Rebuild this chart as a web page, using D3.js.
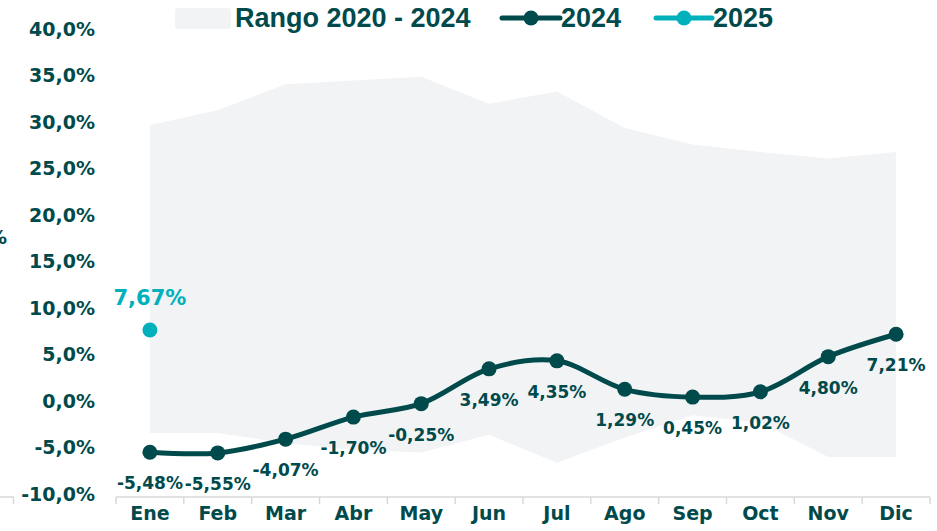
<!DOCTYPE html>
<html><head><meta charset="utf-8">
<script src="https://cdn.jsdelivr.net/npm/d3@7"></script>
<style>
html,body{margin:0;padding:0;background:#fff;}
svg{display:block;}
</style></head>
<body>
<svg id="chart" width="937" height="531"></svg>
<script>
// ---- data ----
const months = ["Ene","Feb","Mar","Abr","May","Jun","Jul","Ago","Sep","Oct","Nov","Dic"];
const series2024 = [-5.48,-5.55,-4.07,-1.70,-0.25,3.49,4.35,1.29,0.45,1.02,4.80,7.21];
const series2025 = [7.67];
const rangeMax = [29.7,31.3,34.1,34.5,34.9,32.0,33.3,29.4,27.6,26.8,26.1,26.8];
const rangeMin = [-3.4,-3.4,-4.5,-5.2,-5.5,-3.6,-6.6,-3.9,-1.5,-2.3,-6.0,-6.0];
const yTicks = [-10,-5,0,5,10,15,20,25,30,35,40];
const legendLabels = ["Rango 2020 - 2024","2024","2025"];

// ---- styles ----
const dark = "#014a4c", teal = "#00b0ba", bandFill = "#f2f3f5", axisGray = "#d9d9d9";
const fontMain = "'DejaVu Sans', sans-serif";
const fontLegend = "'Liberation Sans', Arial, sans-serif";

const svg = d3.select("#chart");
const x = d3.scaleBand().domain(months).range([116, 930]).padding(0);
const y = d3.scaleLinear().domain([-10, 40]).range([494.3, 29.3]);
const cx = m => x(m) + x.bandwidth() / 2;
const fmt = v => v.toFixed(2).replace(".", ",") + "%";

// band
const bandData = months.map((m, i) => ({m, lo: rangeMin[i], hi: rangeMax[i]}));
svg.append("path").datum(bandData)
  .attr("fill", bandFill)
  .attr("d", d3.area().x(d => cx(d.m)).y0(d => y(d.lo)).y1(d => y(d.hi)));

// y axis labels
const yAxis = d3.axisLeft(y).tickValues(yTicks).tickSize(0).tickPadding(0)
  .tickFormat(v => v.toFixed(1).replace(".", ",") + "%");
const gy = svg.append("g").attr("transform", "translate(95,0)").call(yAxis);
gy.select(".domain").remove();
gy.selectAll("text").attr("fill", dark).attr("font-family", fontMain)
  .attr("font-weight", "bold").attr("font-size", 19);

// stray title fragment at left edge
svg.append("text").attr("x", 7).attr("y", 237).attr("dy", "0.35em")
  .attr("text-anchor", "end").attr("fill", dark).attr("font-family", fontMain)
  .attr("font-weight", "bold").attr("font-size", 19).text("%");

// x axis
const axisY = 497;
const xAxis = d3.axisBottom(x).tickSize(0).tickPadding(10);
const gx = svg.append("g").attr("transform", `translate(0,${axisY})`).call(xAxis);
gx.select(".domain").attr("stroke", axisGray).attr("stroke-width", 1.5)
  .attr("d", `M${x.range()[0]},0H${x.range()[1]}`);
gx.selectAll("text").attr("fill", dark).attr("font-family", fontMain)
  .attr("font-weight", "bold").attr("font-size", 19).attr("dy", "0.71em");
const bounds = months.map(m => x(m)).concat([x.range()[1]]);
gx.selectAll("line.bt").data(bounds).enter().append("line").attr("class", "bt")
  .attr("x1", d => d).attr("x2", d => d).attr("y1", 0).attr("y2", 7)
  .attr("stroke", axisGray).attr("stroke-width", 1.5);
// fragment of neighbouring axis at left edge
svg.append("path").attr("d", `M0,${axisY}H13.5V${axisY + 7}`)
  .attr("fill", "none").attr("stroke", axisGray).attr("stroke-width", 1.5);

// 2024 line
const pts = months.map((m, i) => ({m, v: series2024[i]}));
svg.append("path").datum(pts).attr("fill", "none").attr("stroke", dark)
  .attr("stroke-width", 5).attr("stroke-linejoin", "round")
  .attr("d", d3.line().x(d => cx(d.m)).y(d => y(d.v)).curve(d3.curveCatmullRom));
svg.selectAll("circle.p24").data(pts).enter().append("circle").attr("class", "p24")
  .attr("cx", d => cx(d.m)).attr("cy", d => y(d.v)).attr("r", 7.5).attr("fill", dark);
svg.selectAll("text.l24").data(pts).enter().append("text").attr("class", "l24")
  .attr("x", d => cx(d.m)).attr("y", d => y(d.v) + 31).attr("dy", "0.35em")
  .attr("text-anchor", "middle").attr("fill", dark).attr("font-family", fontMain)
  .attr("font-weight", "bold").attr("font-size", 17).text(d => fmt(d.v));

// 2025
const pts25 = series2025.map((v, i) => ({m: months[i], v}));
svg.selectAll("circle.p25").data(pts25).enter().append("circle").attr("class", "p25")
  .attr("cx", d => cx(d.m)).attr("cy", d => y(d.v)).attr("r", 7.5).attr("fill", teal);
svg.selectAll("text.l25").data(pts25).enter().append("text").attr("class", "l25")
  .attr("x", d => cx(d.m)).attr("y", d => y(d.v) - 32).attr("dy", "0.35em")
  .attr("text-anchor", "middle").attr("fill", teal).attr("font-family", fontMain)
  .attr("font-weight", "bold").attr("font-size", 21).text(d => fmt(d.v));

// legend
const lg = svg.append("g");
const ly = 18;
lg.append("rect").attr("x", 175).attr("y", 8).attr("width", 56).attr("height", 21)
  .attr("rx", 3).attr("fill", bandFill);
const legText = (xp, t) => lg.append("text").attr("x", xp).attr("y", ly).attr("dy", "0.35em")
  .attr("fill", dark).attr("font-family", fontLegend).attr("font-weight", "bold")
  .attr("font-size", 27).text(t);
legText(235, legendLabels[0]);
[[502, 560, dark, legendLabels[1]], [656, 712, teal, legendLabels[2]]].forEach(([a, b, c, t]) => {
  lg.append("line").attr("x1", a).attr("x2", b).attr("y1", ly).attr("y2", ly)
    .attr("stroke", c).attr("stroke-width", 5).attr("stroke-linecap", "round");
  lg.append("circle").attr("cx", (a + b) / 2).attr("cy", ly).attr("r", 7.5).attr("fill", c);
  legText(b + 1, t);
});
</script>
</body></html>
